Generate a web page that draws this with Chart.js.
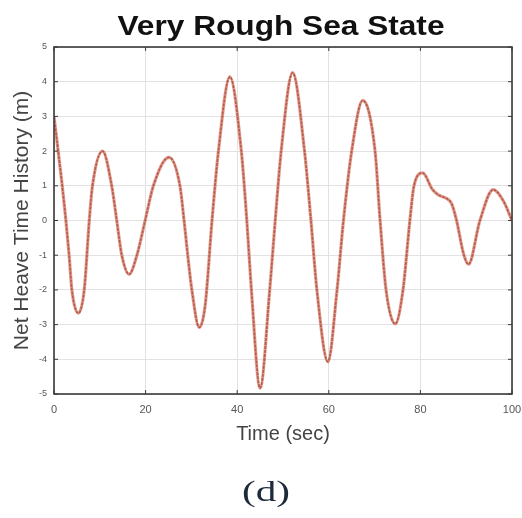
<!DOCTYPE html>
<html>
<head>
<meta charset="utf-8">
<script src="https://cdn.jsdelivr.net/npm/chart.js@4.4.1/dist/chart.umd.min.js"></script>
<style>
  html, body { margin: 0; padding: 0; background: #fff; }
  #wrap { width: 522px; height: 518px; position: relative; }
</style>
</head>
<body>
<div id="wrap"><canvas id="myChart"></canvas></div>
<script>
// values (peaks, troughs and where the curve crosses grid lines)
const timeSec = [0, 1.8, 2.6, 3.3, 3.9, 5.3, 6.6, 7.7, 8.4, 10.6,
  12.6, 13.7, 14.8, 16.4, 18.1, 19.9, 21.7, 25.1, 27.5, 28.4,
  29.2, 30.1, 31.7, 33.0, 34.5, 35.9, 38.4, 40.9, 42.1, 43.1,
  45.0, 47.1, 48.3, 49.6, 52.1, 54.7, 56.1, 57.4, 59.8, 61.8,
  63.2, 65.0, 67.4, 70.1, 71.2, 72.5, 74.5, 76.2, 77.7, 78.6,
  80.5, 82.6, 83.9, 85.9, 86.8, 87.9, 89.4, 90.5, 93.0, 95.9,
  98.1, 100];
const heave = [3.0, 1, 0, -1, -2, -2.67, -2, 0, 1, 2.0,
  1, 0, -1, -1.55, -1, 0, 1, 1.82, 1, 0,
  -1, -2, -3.08, -2.45, 0, 2, 4.14, 2, 0, -2,
  -4.83, -2, 0, 2, 4.26, 2, 0, -2, -4.07, -2,
  0, 2, 3.46, 2, 0, -2, -2.98, -2, 0, 1,
  1.37, 0.9, 0.74, 0.62, 0.49, 0, -0.95, -1.26, 0, 0.89,
  0.57, 0];
const xTicks = [0, 20, 40, 60, 80, 100];
const yTicks = [-5, -4, -3, -2, -1, 0, 1, 2, 3, 4, 5];

const points = timeSec.map(function(t, i) { return { x: t, y: heave[i] }; });

// text stretched to the width it has in the original figure
function drawWideText(c, text, cx, baseY, width) {
  const w = c.measureText(text).width;
  c.save();
  c.translate(cx, baseY);
  c.scale(width / w, 1);
  c.fillText(text, 0, 0);
  c.restore();
}

// box round the plot with small inward ticks, like the original figure
const boxPlugin = {
  id: 'box',
  afterDatasetsDraw: function(chart) {
    const c = chart.ctx;
    const a = chart.chartArea;
    const xs = chart.scales.x;
    const ys = chart.scales.y;
    c.save();
    c.strokeStyle = '#3a3a3a';
    c.lineWidth = 1;
    xTicks.forEach(function(v) {
      const px = xs.getPixelForValue(v);
      c.beginPath();
      c.moveTo(px, a.bottom); c.lineTo(px, a.bottom - 4);
      c.moveTo(px, a.top); c.lineTo(px, a.top + 4);
      c.stroke();
    });
    yTicks.forEach(function(v) {
      const py = ys.getPixelForValue(v);
      c.beginPath();
      c.moveTo(a.left, py); c.lineTo(a.left + 4, py);
      c.moveTo(a.right, py); c.lineTo(a.right - 4, py);
      c.stroke();
    });
    c.lineWidth = 1.6;
    c.strokeRect(a.left, a.top, a.right - a.left, a.bottom - a.top);
    c.restore();
  },
  afterDraw: function(chart) {
    const c = chart.ctx;
    c.save();
    c.textAlign = 'center';
    c.textBaseline = 'alphabetic';
    c.fillStyle = '#111';
    c.font = 'bold 28px "Liberation Sans", Arial, sans-serif';
    drawWideText(c, 'Very Rough Sea State', 281, 35, 327);
    c.fillStyle = '#1c2a3a';
    c.font = '29px "Liberation Serif", "DejaVu Serif", serif';
    drawWideText(c, '(d)', 266, 501, 48);
    c.restore();
  }
};

const ctx = document.getElementById('myChart').getContext('2d');

// eslint-disable-next-line no-unused-vars
const chart = new Chart(ctx, {
  type: 'line',
  data: {
    datasets: [{
      label: 'heave',
      data: points,
      borderColor: 'rgba(220,112,92,0.7)',
      borderWidth: 3.2,
      pointRadius: 0,
      cubicInterpolationMode: 'monotone',
    },
    {
      label: 'heave (overlay)',
      data: points,
      borderColor: '#4a2e28',
      borderWidth: 1.6,
      borderDash: [3, 1],
      pointRadius: 0,
      cubicInterpolationMode: 'monotone',
    }]
  },
  plugins: [boxPlugin],
  options: {
    responsive: true,
    maintainAspectRatio: false,
    animation: false,
    layout: {
      padding: { top: 47, right: 10, bottom: 72, left: 0 }
    },
    plugins: {
      legend: { display: false },
      title: { display: false },
      tooltip: { enabled: false }
    },
    scales: {
      x: {
        type: 'linear',
        min: 0,
        max: 100,
        afterFit: function(s) {
          s.height = 52;
          s.paddingLeft = 0;
          s.paddingRight = 0;
        },
        afterBuildTicks: function(s) { s.ticks = xTicks.map(function(v) { return { value: v }; }); },
        grid: { color: '#e2e2e2', drawTicks: false },
        border: { display: false },
        ticks: {
          padding: 9,
          color: '#555',
          font: { family: '"Liberation Sans", Arial, sans-serif', size: 11 }
        },
        title: {
          display: true,
          text: 'Time (sec)',
          color: '#444',
          padding: { top: 0, bottom: 0 },
          font: { family: '"Liberation Sans", Arial, sans-serif', size: 20 }
        }
      },
      y: {
        min: -5,
        max: 5,
        afterFit: function(s) {
          s.width = 54;
          s.paddingTop = 0;
          s.paddingBottom = 0;
        },
        afterBuildTicks: function(s) { s.ticks = yTicks.map(function(v) { return { value: v }; }); },
        grid: { color: '#e2e2e2', drawTicks: false },
        border: { display: false },
        ticks: {
          padding: 7,
          color: '#555',
          font: { family: '"Liberation Sans", Arial, sans-serif', size: 9 }
        },
        title: {
          display: true,
          text: 'Net Heave Time History (m)',
          color: '#444',
          padding: { top: 10, bottom: 0 },
          font: { family: '"Liberation Sans", Arial, sans-serif', size: 21 }
        }
      }
    }
  }
});
</script>
</body>
</html>
